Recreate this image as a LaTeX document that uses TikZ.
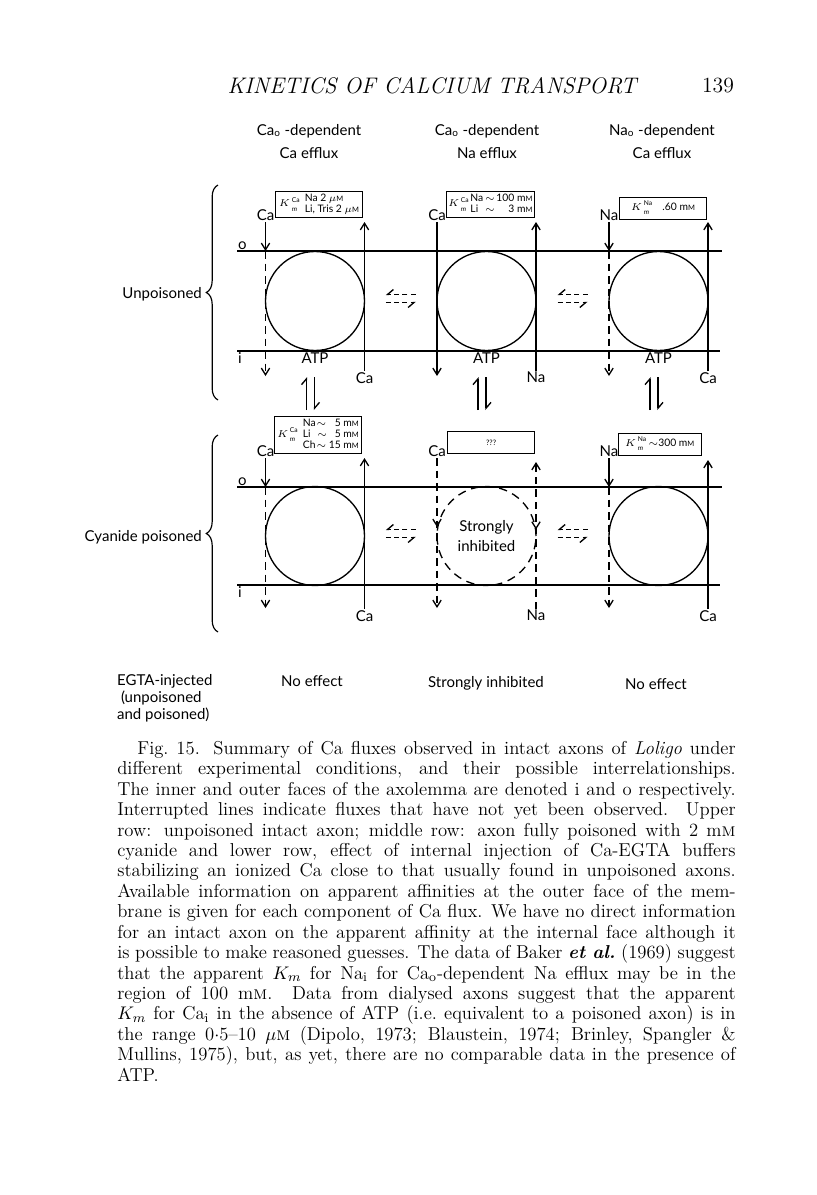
\documentclass[tikz,border=0pt]{standalone}
\usepackage{fontspec}
\newfontfamily\figsans{Lato}
\usetikzlibrary{arrows.meta,calc,decorations.pathreplacing,decorations.markings}
\newcommand{\sm}{\scalebox{0.72}{M}}% small capital M in the boxes
\newcommand{\Km}[1]{$K$\kern1pt{\fontsize{4}{5.3}\selectfont\begin{tabular}{@{}l@{}}#1\\\textit{m}\end{tabular}}}

\tikzset{
  lbl/.style={font=\figsans\fontsize{9}{10}\selectfont, inner sep=0.5pt},
  kbox/.style={draw, line width=0.7pt, inner sep=1.2pt, minimum width=52pt,
    font=\figsans\fontsize{6.2}{6.6}\selectfont},
  flux/.style={line width=0.8pt},
  fluxtip/.style={-{Straight Barb[length=4pt,width=5pt,line width=0.8pt]}},
  broken/.style={dash pattern=on 4.5pt off 3pt},
  pump/.style={circle, draw, line width=0.8pt, minimum size=59.4pt, inner sep=0pt},
  harp/.style={line width=0.8pt, -{Straight Barb[left,length=3.5pt,width=6pt,line width=0.8pt]}},
  trade/.style={line width=0.8pt, dash pattern=on 3pt off 2pt,
    -{Straight Barb[right,length=3.5pt,width=6pt,line width=0.8pt]}},
  midtip/.style={postaction=decorate, decoration={markings,
    mark=at position #1 with {\arrow{Straight Barb[length=4pt,width=5pt,line width=0.8pt]}}}},
  midtipback/.style={postaction=decorate, decoration={markings,
    mark=at position #1 with {\arrowreversed{Straight Barb[length=4pt,width=5pt,line width=0.8pt]}}}},
}

\begin{document}
\begin{tikzpicture}[x=0.6pt,y=-0.6pt]
\useasboundingbox (0,0) rectangle (816,1195);
% running head
\node[font=\fontsize{13.5}{15}\selectfont\itshape\addfontfeature{LetterSpace=7}] (runhead) at (432,86) {KINETICS OF CALCIUM TRANSPORT};
\node[font=\fontsize{13}{15}\selectfont] (folio) at (718,86) {139};
% column headings
\foreach \cx/\ion/\eff/\k in {309/Ca/Ca/A,487/Ca/Na/B,662/Na/Ca/C}{
  \node[lbl] (dep\k) at (\cx,131) {\ion\textsubscript{o} -dependent};
  \node[lbl] (eff\k) at (\cx,153) {\eff{} efflux};
}
% membranes, o = outer face, i = inner face
\foreach \oy/\iy/\p in {251/351/U,487/585/P}{
  \coordinate (oW\p) at (237,\oy); \coordinate (oE\p) at (722,\oy);
  \coordinate (iW\p) at (237,\iy); \coordinate (iE\p) at (720,\iy);
  \draw[flux] (oW\p) -- (oE\p);
  \draw[flux] (iW\p) -- (iE\p);
  \node[lbl, anchor=south west] (o\p) at (oW\p) {o};
  \node[lbl, anchor=north west] (i\p) at (iW\p) {i};
}
% unpoisoned row
\foreach \cx/\ionin/\ionout/\ust/\lst/\k in {315/Ca/Ca/fluxtip/broken/A,486.5/Ca/Na/flux/solid/B,658.5/Na/Ca/fluxtip/broken/C}{
  \node[pump] (pump\k) at (\cx,301) {};
  \node[lbl, anchor=north] (atp\k) at (\cx,352) {ATP};
  \node[lbl, anchor=south] (in\k) at (\cx-49.5,222) {\ionin};
  \node[lbl, anchor=north] (out\k) at (\cx+49.5,371) {\ionout};
  \coordinate (entry\k) at (\cx-49.5,251);
  \coordinate (drop\k) at (\cx-49.5,376);
  \coordinate (exit\k) at (\cx+49.5,222);
  \coordinate (eq\k) at (\cx-4.5,393);
  \draw[flux,\ust] (in\k.south) -- (entry\k);
  \draw[flux,fluxtip,\lst] (entry\k) -- (drop\k);
  \draw[flux,fluxtip] (out\k.north) -- (exit\k);
  \draw[harp] ([shift={(-4,17)}]eq\k) -- ([shift={(-4,-16)}]eq\k);
  \draw[harp] ([shift={(4,-16)}]eq\k) -- ([shift={(4,17)}]eq\k);
}
\node[kbox, anchor=south east, minimum height=15.6pt] (kmA) at (363,218)
  {\Km{Ca}\enspace\begin{tabular}{@{}l@{}}Na 2 $\mu$\sm\\Li, Tris 2 $\mu$\sm\end{tabular}};
\node[kbox, anchor=south east, minimum height=15.6pt] (kmB) at (535,218)
  {\Km{Ca}\,\begin{tabular}{@{}l@{\,}c@{\,}r@{}}Na&$\sim$&100 m\sm\\Li&$\sim$&3 m\sm\end{tabular}};
\node[kbox, anchor=south east, minimum height=13.2pt] (kmC) at (707,220)
  {\Km{Na}\quad .60 m\sm};
% cyanide poisoned row
\foreach \cx/\ionin/\ionout/\k/\ey in {315/Ca/Ca/D/458,486.5/Ca/Na/E/462,658.5/Na/Ca/F/460}{
  \node[lbl, anchor=south] (in\k) at (\cx-49.5,458) {\ionin};
  \node[lbl, anchor=north] (out\k) at (\cx+49.5,609) {\ionout};
  \coordinate (entry\k) at (\cx-49.5,487);
  \coordinate (drop\k) at (\cx-49.5,608);
  \coordinate (exit\k) at (\cx+49.5,\ey);
}
\node[pump] (pumpD) at (315,536) {};
\node[pump, dash pattern=on 5pt off 3.5pt, font=\figsans\fontsize{9}{12}\selectfont, align=center] (pumpE) at (486.5,536) {Strongly\\inhibited};
\node[pump] (pumpF) at (658.5,536) {};
\draw[flux,fluxtip] (inD.south) -- (entryD);
\draw[flux,fluxtip,broken] (entryD) -- (dropD);
\draw[flux,fluxtip] (outD.north) -- (exitD);
\draw[flux,fluxtip,broken,midtip=0.46] (inE.south) -- (dropE);
\draw[flux,fluxtip,broken,midtipback=0.54] (outE.north) -- (exitE);
\draw[flux,fluxtip] (inF.south) -- (entryF);
\draw[flux,fluxtip,broken] (entryF) -- (dropF);
\draw[flux,fluxtip] (outF.north) -- (exitF);
\node[kbox, anchor=south east, minimum height=22.2pt] (kmD) at (362,454)
  {\Km{Ca}\enspace\begin{tabular}{@{}l@{}c@{\,}r@{}}Na&$\sim$&5 m\sm\\Li&\,$\sim$&5 m\sm\\Ch&$\sim$&15 m\sm\end{tabular}};
\node[kbox, anchor=south east, minimum height=13.2pt] (kmE) at (535,454)
  {\fontsize{4.5}{5}\selectfont ???};
\node[kbox, anchor=south east, minimum height=12.6pt, minimum width=50pt] (kmF) at (702,456)
  {\Km{Na} $\sim$300 m\sm};
% exchanges between the modes
\foreach \p/\q in {A/B,B/C,D/E,E/F}{
  \coordinate (mid\p\q) at ($(pump\p.east)!0.5!(pump\q.west)$);
  \draw[trade] ([shift={(15,-6.5)}]mid\p\q) -- ([shift={(-15,-6.5)}]mid\p\q);
  \draw[trade] ([shift={(-15,1.5)}]mid\p\q) -- ([shift={(15,1.5)}]mid\p\q);
}
% row braces
\draw[line width=0.7pt, decorate, decoration={brace, amplitude=7pt}] (218,400) -- (218,185);
\node[lbl, anchor=east] (unpois) at (203,294) {Unpoisoned};
\draw[line width=0.7pt, decorate, decoration={brace, amplitude=7pt}] (218,632) -- (218,435);
\node[lbl, anchor=east] (cyanide) at (203,537) {Cyanide poisoned};
% EGTA row
\node[lbl, anchor=north west, align=left, font=\figsans\fontsize{9}{10.2}\selectfont] (egta) at (116,673)
  {EGTA-injected\\\ (unpoisoned\\and poisoned)};
\node[lbl] (resA) at (312,681) {No effect};
\node[lbl] (resB) at (486,683) {Strongly inhibited};
\node[lbl] (resC) at (656,684) {No effect};
% legend
\node[anchor=north west, text width=371pt, align=justify, inner sep=0pt,
  font=\fontsize{11.2}{12.25}\selectfont] (legend) at (117,741)
  {\hspace*{12pt}Fig.~15. Summary of Ca fluxes observed in intact axons of \textit{Loligo} under\linebreak
different experimental conditions, and their possible interrelationships.\linebreak
The inner and outer faces of the axolemma are denoted i and o respectively.\linebreak
Interrupted lines indicate fluxes that have not yet been observed. Upper\linebreak
row: unpoisoned intact axon; middle row: axon fully poisoned with 2~m\textsc{m}\linebreak
cyanide and lower row, effect of internal injection of Ca-EGTA buffers\linebreak
stabilizing an ionized Ca close to that usually found in unpoisoned axons.\linebreak
Available information on apparent affinities at the outer face of the mem-\linebreak
brane is given for each component of Ca flux. We have no direct information\linebreak
for an intact axon on the apparent affinity at the internal face although it\linebreak
is possible to make reasoned guesses. The data of Baker \textbf{\textit{et al.}}\ (1969) suggest\linebreak
that the apparent $K_m$ for Na$_\mathrm{i}$ for Ca$_\mathrm{o}$-dependent Na efflux may be in the\linebreak
region of 100~m\textsc{m}. Data from dialysed axons suggest that the apparent\linebreak
$K_m$ for Ca$_\mathrm{i}$ in the absence of ATP (i.e.\ equivalent to a poisoned axon) is in\linebreak
the range 0$\cdot$5--10~$\mu$\textsc{m} (Dipolo, 1973; Blaustein, 1974; Brinley, Spangler \&\linebreak
Mullins, 1975), but, as yet, there are no comparable data in the presence of\linebreak
ATP.};
\end{tikzpicture}
\end{document}
